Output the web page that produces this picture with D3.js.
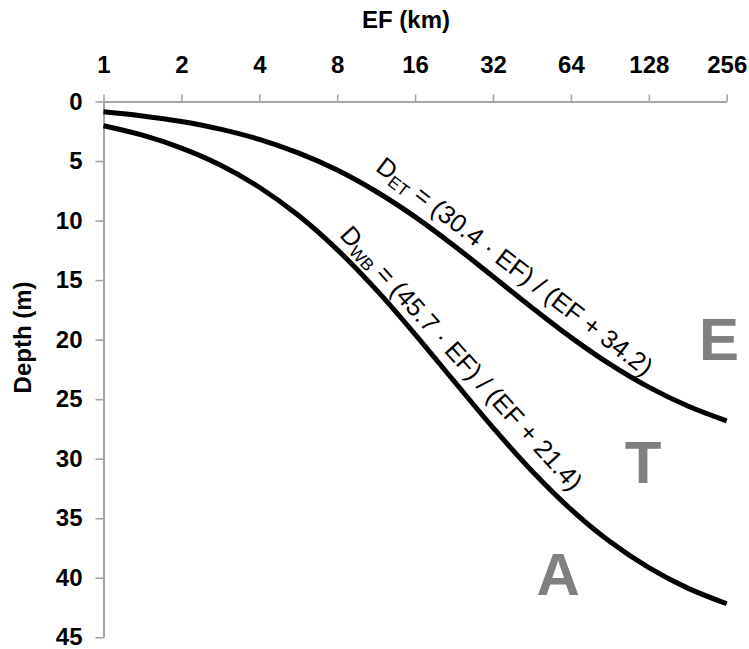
<!DOCTYPE html>
<html>
<head>
<meta charset="utf-8">
<script src="https://cdn.jsdelivr.net/npm/d3@7"></script>
<style>
  html, body { margin: 0; padding: 0; background: #fff; }
  svg { display: block; }
  text { font-family: "Liberation Sans", Arial, sans-serif; }
</style>
</head>
<body>
<svg id="chart" width="749" height="649"></svg>
<script>
// ---- data ----
const efValues   = [1, 1.414, 2, 2.828, 4, 5.657, 8, 11.31, 16, 22.63, 32, 45.25, 64, 90.51, 128, 181.0, 256];
const depthET    = [0.86, 1.21, 1.68, 2.32, 3.18, 4.32, 5.76, 7.56, 9.69, 12.11, 14.70, 17.31, 19.81, 22.06, 23.99, 25.57, 26.82];
const depthWB    = [2.04, 2.83, 3.91, 5.33, 7.20, 9.56, 12.44, 15.80, 19.55, 23.49, 27.39, 31.03, 34.25, 36.96, 39.15, 40.87, 42.18];
const xTicks     = [1, 2, 4, 8, 16, 32, 64, 128, 256];
const yTicks     = [0, 5, 10, 15, 20, 25, 30, 35, 40, 45];
const xTitle     = "EF (km)";
const yTitle     = "Depth (m)";
const zoneLetters = ["E", "T", "A"];
const zoneEF      = [239, 121.6, 57.1];
const zoneDepth   = [21.7, 32.0, 41.45];

const svg = d3.select("#chart");

const x = d3.scaleLog().base(2).domain([1, 256]).range([103.5, 726.7]);
const y = d3.scaleLinear().domain([0, 45]).range([101.5, 637.3]);

const axisColor = "#a6a6a6";
const labelFont = 24;

// X axis (top)
const gx = svg.append("g")
  .attr("transform", `translate(0,${y(0)})`)
  .call(d3.axisTop(x).tickValues(xTicks).tickFormat(d3.format("d")).tickSize(7).tickPadding(22).tickSizeOuter(0));
gx.select(".domain").attr("stroke", axisColor).attr("stroke-width", 2);
gx.selectAll(".tick line").attr("stroke", axisColor).attr("stroke-width", 1.6);
gx.selectAll(".tick text").attr("font-size", labelFont).attr("font-weight", "bold").attr("fill", "#000")
  .attr("font-family", "'Liberation Sans', Arial, sans-serif");

// Y axis (left)
const gy = svg.append("g")
  .attr("transform", `translate(${x(1)},0)`)
  .call(d3.axisLeft(y).tickValues(yTicks).tickFormat(d3.format("d")).tickSize(8).tickPadding(13).tickSizeOuter(0));
gy.select(".domain").attr("stroke", axisColor).attr("stroke-width", 2);
gy.selectAll(".tick line").attr("stroke", axisColor).attr("stroke-width", 1.6);
gy.selectAll(".tick text").attr("font-size", labelFont).attr("font-weight", "bold").attr("fill", "#000")
  .attr("font-family", "'Liberation Sans', Arial, sans-serif").attr("dy", "0.32em");

// Axis titles
svg.append("text")
  .attr("x", 406)
  .attr("y", 28)
  .attr("text-anchor", "middle")
  .attr("font-size", labelFont).attr("font-weight", "bold")
  .text(xTitle);

svg.append("text")
  .attr("transform", `translate(31,${(y(0) + y(45)) / 2 - 32}) rotate(-90)`)
  .attr("text-anchor", "middle")
  .attr("font-size", labelFont).attr("font-weight", "bold")
  .text(yTitle);

// Curves
const line = d3.line()
  .x(d => x(d[0]))
  .y(d => y(d[1]))
  .curve(d3.curveCatmullRom.alpha(0.5));

[depthET, depthWB].forEach(series => {
  svg.append("path")
    .datum(efValues.map((e, i) => [e, series[i]]))
    .attr("d", line)
    .attr("fill", "none")
    .attr("stroke", "#000")
    .attr("stroke-width", 5);
});

// Curve labels
function eqLabel(ef, depth, angle, sub, a, b) {
  const t = svg.append("text")
    .attr("transform", `translate(${x(ef)},${y(depth)}) rotate(${angle})`)
    .attr("text-anchor", "middle")
    .attr("dy", "0.35em")
    .attr("font-size", 25.5)
    .attr("fill", "#000");
  t.append("tspan").text("D");
  t.append("tspan").attr("font-size", 17).attr("dy", 4).text(sub);
  t.append("tspan").attr("dy", -4).text(` = (${a} · EF) / (EF + ${b})`);
}
eqLabel(38.9, 13.85, 37.5, "ET", "30.4", "34.2");
eqLabel(24.2, 21.55, 47.8, "WB", "45.7", "21.4");

// Zone letters
zoneLetters.forEach((L, i) => {
  svg.append("text")
    .attr("x", x(zoneEF[i]))
    .attr("y", y(zoneDepth[i]))
    .attr("text-anchor", "middle")
    .attr("font-size", 60)
    .attr("font-weight", "bold")
    .attr("fill", "#808080")
    .text(L);
});
</script>
</body>
</html>
